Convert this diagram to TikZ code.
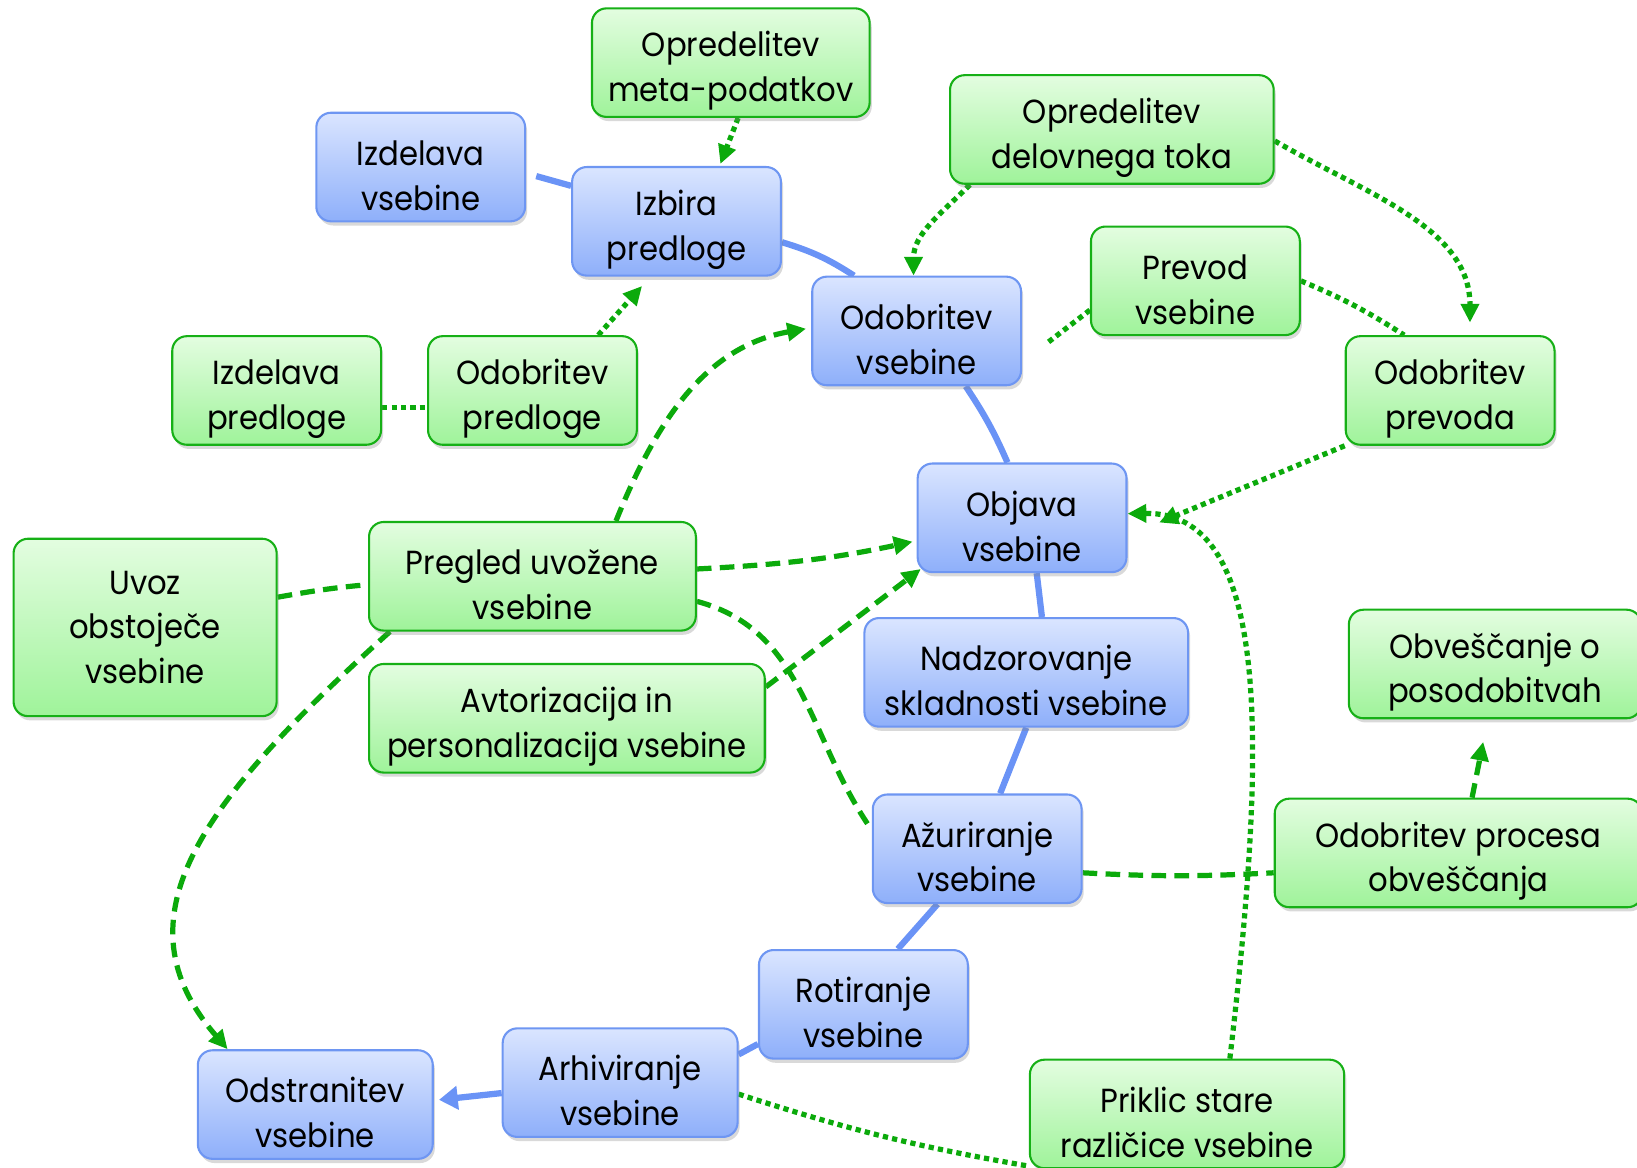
\documentclass[tikz,border=0pt]{standalone}
\usepackage{fontspec}
\setmainfont{Poppins}[FakeStretch=0.92]
\usetikzlibrary{arrows.meta,shadows,backgrounds,calc}

\definecolor{bluetop}{HTML}{DAE5FF}
\definecolor{bluebot}{HTML}{8EAFFA}
\definecolor{blueline}{HTML}{6E96F2}
\definecolor{linkblue}{HTML}{6A93F6}
\definecolor{greentop}{HTML}{E3FDE0}
\definecolor{greenbot}{HTML}{9FF39A}
\definecolor{greenline}{HTML}{16B016}
\definecolor{flow}{HTML}{0BAA0B}

% extra room above the first line, so the two lines sit a little low in the box
\newcommand\toppad{\rule{0pt}{20pt}}

\begin{document}
\begin{tikzpicture}[x=0.5pt,y=-0.5pt,
  box/.style={rounded corners=7pt, line width=1pt, align=center, inner sep=0pt,
    minimum width=100pt, minimum height=52pt,
    font=\fontsize{16}{21.5}\selectfont,
    drop shadow={opacity=0.3, shadow xshift=1pt, shadow yshift=-2pt}},
  bluebox/.style={box, draw=blueline, top color=bluetop, bottom color=bluebot},
  greenbox/.style={box, draw=greenline, top color=greentop, bottom color=greenbot},
  link/.style={draw=linkblue, line width=3pt},
  dotflow/.style={draw=flow, line width=2.5pt, dash pattern=on 2.5pt off 2pt},
  dashflow/.style={draw=flow, line width=2.5pt, dash pattern=on 7pt off 4pt},
  flowtip/.style={-{Triangle[length=9pt,width=8.5pt]}},
]
\useasboundingbox (0,0) rectangle (1568,1118);

% process steps
\node[bluebox] (izdv) at (403,160) {\toppad Izdelava\\vsebine};
\node[bluebox] (izbp) at (648,212) {\toppad Izbira\\predloge};
\node[bluebox] (odv) at (878,317) {\toppad Odobritev\\vsebine};
\node[bluebox] (objv) at (979,496) {\toppad Objava\\vsebine};
\node[bluebox, minimum width=155pt] (nadz) at (983,644) {\toppad Nadzorovanje\\skladnosti vsebine};
\node[bluebox] (azur) at (936,813) {\toppad Ažuriranje\\vsebine};
\node[bluebox] (rot) at (827,962) {\toppad Rotiranje\\vsebine};
\node[bluebox, minimum width=112.5pt] (arh) at (594,1037) {\toppad Arhiviranje\\vsebine};
\node[bluebox, minimum width=112.5pt] (odst) at (302,1058) {\toppad Odstranitev\\vsebine};

% supporting activities
\node[greenbox, minimum width=133pt] (omp) at (700,60) {\toppad Opredelitev\\meta-podatkov};
\node[greenbox, minimum width=155pt] (odt) at (1065,124) {\toppad Opredelitev\\delovnega toka};
\node[greenbox] (prev) at (1145,269) {\toppad Prevod\\vsebine};
\node[greenbox] (odprev) at (1389,374) {\toppad Odobritev\\prevoda};
\node[greenbox] (izp) at (265,374) {\toppad Izdelava\\predloge};
\node[greenbox] (odp) at (510,374) {\toppad Odobritev\\predloge};
\node[greenbox, minimum width=126pt, minimum height=85pt] (uvoz) at (139,601) {Uvoz\\obstoječe\\vsebine};
\node[greenbox, minimum width=156.5pt] (pregl) at (510,552) {\toppad Pregled uvožene\\vsebine};
\node[greenbox, minimum width=189.5pt] (avt) at (543,688) {\toppad Avtorizacija in\\personalizacija vsebine};
\node[greenbox, minimum width=140pt] (obv) at (1432,636) {\toppad Obveščanje o\\posodobitvah};
\node[greenbox, minimum width=176pt] (odpo) at (1397,817) {\toppad Odobritev procesa\\obveščanja};
\node[greenbox, minimum width=150.5pt] (prik) at (1137,1067) {\toppad Priklic stare\\različice vsebine};

\begin{scope}[on background layer]
% main life cycle
\draw[link, shorten <=5pt] ([yshift=-3pt]izdv.east) -- ([yshift=17pt]izbp.west);
\draw[link] ([yshift=-10pt]izbp.east) to[bend left=8] ([xshift=-30pt]odv.north);
\draw[link] ([xshift=23.5pt]odv.south) to[bend left=5] ([xshift=-7pt]objv.north);
\draw[link] ([xshift=7pt]objv.south) -- ([xshift=7.5pt]nadz.north);
\draw[link] (nadz.south) -- ([xshift=11pt]azur.north);
\draw[link] ([xshift=-19pt]azur.south) -- ([xshift=16.5pt]rot.north);
\draw[link] ([yshift=-19pt]rot.west) -- ([yshift=13.5pt]arh.east);
\draw[link, -{Triangle[length=9pt,width=11pt]}, shorten >=2.5pt] ([yshift=-5pt]arh.west) -- ([yshift=2pt]odst.east);

% dotted dependencies
\draw[dotflow, flowtip] ([xshift=3.5pt]omp.south) -- ([xshift=21pt,yshift=1pt]izbp.north);
\draw[dotflow, flowtip, shorten >=6pt] ([xshift=31.5pt]odp.north) -- ([xshift=-12.5pt]izbp.south);
\draw[dotflow] ([yshift=-8pt]izp.east) -- ([yshift=-8pt]odp.west);
\draw[dotflow, flowtip] ([xshift=10pt]odt.south west) to[out=225,in=90] ([xshift=-1.5pt]odv.north);
\draw[dotflow, flowtip, shorten >=6pt] ([yshift=-5.5pt]odt.east) to[out=-30,in=90] ([xshift=9.5pt]odprev.north);
\draw[dotflow, shorten >=15.5pt] ([yshift=-14pt]prev.west) -- ([yshift=-15pt]odv.east);
\draw[dotflow] (prev.east) to[bend left=5] ([xshift=-22pt]odprev.north);
\draw[dotflow, flowtip, shorten >=16.4pt] (odprev.south west) -- ([yshift=-8.5pt]objv.east);
\draw[dotflow, flowtip] ([xshift=20.5pt]prik.north) .. controls (1215,700) and (1215,490) .. ([yshift=2pt]objv.east);
\draw[dotflow] ([yshift=-5.5pt]arh.east) to[bend right=4] ([yshift=-25pt]prik.west);

% dashed dependencies
\draw[dashflow, flowtip, shorten >=2.5pt] ([xshift=40pt]pregl.north) to[out=68,in=190] ([yshift=1.5pt]odv.west);
\draw[dashflow, flowtip, shorten >=2pt] ([yshift=3.5pt]pregl.east) to[out=3,in=192] ([yshift=-11pt]objv.west);
\draw[dashflow] ([yshift=14.5pt]uvoz.east) to[out=10,in=185] ([yshift=-4pt]pregl.west);
\draw[dashflow] ([yshift=-12pt]pregl.east) to[out=-15,in=125] ([yshift=9pt]azur.west);
\draw[dashflow, flowtip] ([yshift=15pt]avt.east) -- ([xshift=2pt,yshift=2pt]objv.south west);
\draw[dashflow, flowtip] ([xshift=10.5pt]pregl.south west) .. controls (190,770) and (110,880) .. ([xshift=-42pt]odst.north);
\draw[dashflow] ([yshift=-11.5pt]azur.east) to[bend right=3] ([yshift=-9.5pt]odpo.west);
\draw[dashflow, flowtip, shorten >=11pt] ([xshift=6.5pt]odpo.north) -- ([xshift=-3.5pt]obv.south);
\end{scope}
\end{tikzpicture}
\end{document}
